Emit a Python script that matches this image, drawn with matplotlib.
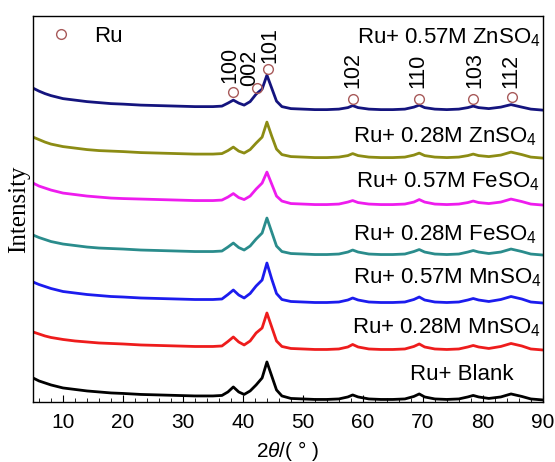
import matplotlib
matplotlib.use("Agg")
import matplotlib.pyplot as plt
from matplotlib.ticker import MultipleLocator, NullLocator

plt.rcParams["font.family"] = ["Liberation Sans", "DejaVu Sans"]
plt.rcParams["mathtext.fontset"] = "custom"
plt.rcParams["mathtext.rm"] = "Liberation Sans"
plt.rcParams["mathtext.it"] = "Liberation Sans:italic"

# ---------------------------------------------------------------------------
# Data (intensity, arbitrary units above each baseline)
# ---------------------------------------------------------------------------

two_theta = [5, 6, 7, 8, 10, 12, 14, 16, 18, 20, 23, 26, 29, 32, 35, 36.5, 37.5,
             38.4, 39.3, 40.2, 41.2, 42.2, 43.2, 44.0, 44.8, 45.6, 46.5, 48, 50,
             52, 54, 56, 57.5, 58.3, 59.2, 61, 63, 65, 67, 68.5, 69.4, 70.3, 72,
             74, 76, 77.5, 78.4, 79.3, 81, 83, 84.7, 86.5, 88, 90]

blank = [22, 19, 17, 15, 12, 10.5, 9, 8, 7, 6.5, 5.5, 5, 4.5, 4, 4, 4.5, 8, 13, 8, 5.5,
         9, 15, 22, 38, 24, 10, 4, 1.5, 1, 0.5, 0.5, 1, 3, 5, 3, 1, 0.5, 0.5, 1, 3.5,
         6, 3, 1, 0.5, 1, 3, 4.5, 3, 1.5, 3, 6, 3.5, 1, 0]
mn_028 = [18, 16, 14, 12.5, 10.5, 9, 8, 7, 6.5, 6, 5, 4.5, 4, 3.5, 3.5, 4, 8.5, 13, 8, 5,
          9, 17, 22, 37, 23, 9, 3.5, 1.5, 1, 0.5, 0.5, 1, 3, 5.5, 3, 1, 0.5, 0.5, 1, 3.5,
          6, 3, 1, 0.5, 1, 3, 4.5, 3, 1.5, 3.5, 6.5, 4, 1, 0]
mn_057 = [21, 18.5, 16.5, 14.5, 11.5, 10, 8.5, 7.5, 6.5, 6, 5, 4.5, 4, 3.5, 3.5, 4, 8.5, 13, 8, 5,
          9.5, 17, 23, 40, 24, 9.5, 3.5, 1.5, 1, 0.5, 0.5, 1, 3, 5, 3, 1, 0.5, 0.5, 1, 3.5,
          6, 3, 1, 0.5, 1, 3, 4.5, 3, 1.5, 3.5, 6.5, 4, 1, 0]
fe_028 = [20, 17.5, 15.5, 13.5, 11, 9.5, 8, 7, 6.5, 6, 5, 4.5, 4, 3.5, 3.5, 4, 8, 12, 7.5, 5,
          9, 16, 22, 37, 23, 9, 3.5, 1.5, 1, 0.5, 0.5, 1, 3, 5, 3, 1, 0.5, 0.5, 1, 3.5,
          5.5, 3, 1, 0.5, 1, 3, 4.5, 3, 1.5, 3, 6, 3.5, 1, 0]
fe_057 = [22, 19, 17, 15, 12, 10.5, 9, 8, 7, 6.5, 6, 5.5, 5, 4.5, 4.5, 5, 8, 11.5, 7.5, 5.5,
          9, 16, 22, 33, 21, 9, 4, 1.5, 1, 0.5, 0.5, 1, 3, 4.5, 2.5, 1, 0.5, 0.5, 1, 3,
          5.5, 3, 1, 0.5, 1, 2.5, 4, 2.5, 1.5, 3, 6, 3.5, 1, 0]
zn_028 = [21, 18.5, 16, 14, 11.5, 10, 8.5, 7.5, 7, 6.5, 5.5, 5, 4.5, 4, 4, 4.5, 7.5, 11, 7, 5,
          8.5, 15, 21, 36, 22, 9, 3.5, 1.5, 1, 0.5, 0.5, 1, 2.5, 4.5, 2.5, 1, 0.5, 0.5, 1, 3,
          5, 2.5, 1, 0.5, 1, 2.5, 4, 2.5, 1.5, 3, 6, 3.5, 1, 0]
zn_057 = [22, 19, 16.5, 14.5, 11.5, 10, 8.5, 7.5, 6.5, 6, 5, 4.5, 4, 3.5, 3.5, 4, 7, 10, 7, 5,
          8.5, 16, 21, 35, 22, 9, 3.5, 1.5, 1, 0.5, 0.5, 1, 2.5, 4.5, 2.5, 1, 0.5, 0.5, 1, 3,
          5, 2.5, 1, 0.5, 1, 2.5, 4, 2.5, 1.5, 3, 5.5, 3, 1, 0]

series = [blank, mn_028, mn_057, fe_028, fe_057, zn_028, zn_057]
offsets = [2, 52, 99, 147, 197, 244, 292]
labels = ["Ru+ Blank", "Ru+ 0.28M MnSO$_4$", "Ru+ 0.57M MnSO$_4$",
          "Ru+ 0.28M FeSO$_4$", "Ru+ 0.57M FeSO$_4$",
          "Ru+ 0.28M ZnSO$_4$", "Ru+ 0.57M ZnSO$_4$"]
colors = ["#000000", "#ee1c1c", "#1c1cee", "#2a8c8c", "#ee1cee", "#8c8c14", "#14147e"]

# Ru reflections (marked on the top pattern)
ru_pos = [38.4, 42.3, 44.1, 58.3, 69.3, 78.4, 84.9]
ru_height = [18, 22, 41, 11, 11, 11, 13]
ru_hkl = ["100", "002", "101", "102", "110", "103", "112"]

# label layout
label_x = [67.8, 58.2, 58.3, 58.3, 58.8, 58.3, 59.0]
label_y = [27, 74, 124, 167, 220, 265, 364]
hkl_x = [37.8, 41.1, 44.5, 58.25, 69.25, 78.6, 84.6]
hkl_y = [319, 316, 339, 314, 314, 314, 314]

# ---------------------------------------------------------------------------
# Plotting
# ---------------------------------------------------------------------------

fig = plt.figure(figsize=(5.55, 4.62), dpi=100)
ax = fig.add_axes([0.0595, 0.13, 0.9185, 0.835])

for ys, off, col in zip(series, offsets, colors):
    ax.plot(two_theta, [v + off for v in ys], color=col, linewidth=2.0,
            solid_joinstyle="round")

for lab, lx, ly in zip(labels, label_x, label_y):
    ax.text(lx, ly, lab, fontsize=16, ha="left", va="center", clip_on=False)

top = offsets[-1]
ax.plot(ru_pos, [h + top for h in ru_height], linestyle="none", marker="o",
        markersize=7, markerfacecolor="none", markeredgecolor="#a85a5a",
        markeredgewidth=1.0, label="Ru")
for tx, ty, hkl in zip(hkl_x, hkl_y, ru_hkl):
    ax.text(tx, ty, hkl, fontsize=15.5, rotation=90, ha="center", va="bottom")

ax.legend(loc="upper left", bbox_to_anchor=(-0.02, 1.015), frameon=False,
          fontsize=16, handletextpad=0.5, borderaxespad=0.3)

ax.set_xlim(5, 90)
ax.set_ylim(0, 386)
ax.xaxis.set_major_locator(MultipleLocator(10))
ax.xaxis.set_minor_locator(MultipleLocator(2))
ax.yaxis.set_major_locator(NullLocator())
ax.tick_params(axis="x", which="major", direction="in", length=5, labelsize=15, pad=8)
ax.tick_params(axis="x", which="minor", direction="in", length=3)
for sp in ax.spines.values():
    sp.set_linewidth(1.0)

ax.set_xlabel(r"2$\theta$/( ° )", fontsize=15, labelpad=5)
ax.set_ylabel("Intensity", fontsize=18, family="Liberation Serif", labelpad=2)

fig.savefig("out.png", dpi=100)
